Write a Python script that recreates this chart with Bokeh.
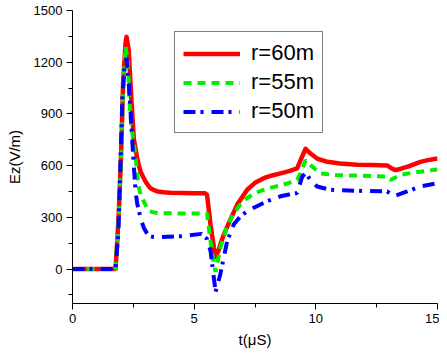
from bokeh.plotting import figure
from bokeh.models import Legend, LegendItem, Range1d, FixedTicker
from bokeh.embed import file_html
from bokeh.resources import INLINE

# r = 60 m
t_60 = [0, 1.77, 1.9, 2.0, 2.08, 2.18, 2.22, 2.31, 2.42, 2.52, 2.59, 2.66, 2.73, 2.8, 2.9, 3.0, 3.1, 3.2,
        3.35, 3.5, 3.75, 4.0, 5.0, 5.45,
        5.53, 5.67, 5.81, 5.88, 6.0, 6.14, 6.22, 6.49, 6.77, 7.18, 7.5, 7.86, 8.2, 8.55, 8.9, 9.23, 9.4, 9.58, 9.78,
        10.05, 10.47, 11.0, 11.7, 12.3, 12.93, 13.1, 13.27, 13.5, 13.75, 14.0, 14.3, 14.6, 15.0]
ez_60 = [0, 0, 317, 679, 1080, 1309, 1347, 1271, 985, 755, 700, 641, 600, 565, 535, 508, 487, 469,
         458, 450, 445, 442, 440, 440,
         430, 260, 126, 69, 107, 170, 200, 288, 374, 460, 500, 527, 543, 555, 568, 584, 641, 698, 670,
         641, 622, 612, 605, 603, 601, 585, 574, 582, 593, 606, 622, 632, 641]

# r = 55 m
t_55 = [0, 1.77, 1.9, 2.0, 2.08, 2.18, 2.28, 2.36, 2.48, 2.59, 2.66, 2.73, 2.83, 2.93, 3.04, 3.14, 3.3,
        3.5, 4.5, 5.5,
        5.53, 5.67, 5.81, 5.88, 6.08, 6.36, 6.63, 6.9, 7.18, 7.5, 7.86, 8.2, 8.55, 8.9, 9.23, 9.37, 9.58, 9.78,
        10.19, 10.8, 11.7, 12.93, 13.07, 13.25, 13.48, 13.9, 14.3, 15.0]
ez_55 = [0, 0, 300, 650, 1050, 1290, 1200, 918, 760, 660, 550, 469, 420, 393, 360, 336, 330,
         325, 322, 322,
         322, 164, 30, -17, 126, 250, 326, 375, 412, 440, 460, 474, 485, 500, 517, 555, 631, 603,
         555, 545, 542, 536, 517, 530, 546, 557, 565, 578]

# r = 50 m
t_50 = [0, 1.77, 1.88, 1.97, 2.05, 2.15, 2.22, 2.3, 2.38, 2.45, 2.52, 2.59, 2.66, 2.73, 2.83, 2.93, 3.04,
        3.14, 3.3, 3.5, 4.44,
        5.3, 5.53, 5.67, 5.88, 6.08, 6.36, 6.63, 6.9, 7.18, 7.6, 8.0, 8.55, 8.9, 9.23, 9.44, 9.58, 9.78, 10.05,
        10.6, 11.7, 12.93, 13.2, 13.5, 13.75, 14.3, 15.0]
ez_50 = [0, 0, 200, 600, 1000, 1200, 1223, 1100, 930, 755, 600, 450, 380, 336, 280, 240, 212,
         193, 187, 185, 190,
         204, 174, 107, -132, -27, 164, 260, 305, 336, 366, 393, 422, 432, 441, 536, 555, 517, 479,
         460, 454, 450, 422, 437, 450, 479, 498]

series_labels = ["r=60m", "r=55m", "r=50m"]
x_ticks = [0, 5, 10, 15]
y_ticks = [0, 300, 600, 900, 1200, 1500]

FONT = "Liberation Sans"

p = figure(width=439, height=350, output_backend="svg", toolbar_location=None,
           x_range=Range1d(0, 15), y_range=Range1d(-200, 1500),
           min_border_left=72, min_border_right=2, min_border_top=10, min_border_bottom=45)
p.outline_line_color = None
p.xgrid.visible = False
p.ygrid.visible = False

r1 = p.line(t_60, ez_60, line_color="#ff0000", line_width=4.5, line_join="round")
r2 = p.line(t_55, ez_55, line_color="#00ee00", line_width=4, line_dash="8 6")
r3 = p.line(t_50, ez_50, line_color="#0000ff", line_width=4, line_dash="12 5 3 8")

for ax in (p.xaxis[0], p.yaxis[0]):
    ax.axis_line_color = "black"
    ax.axis_line_width = 1
    ax.major_tick_out = 6
    ax.major_tick_in = 0
    ax.minor_tick_out = 4
    ax.minor_tick_in = 0
    ax.major_label_text_font = FONT
    ax.major_label_text_font_size = "13px"
    ax.major_label_text_color = "black"
    ax.axis_label_text_font = FONT
    ax.axis_label_text_font_size = "15px"
    ax.axis_label_text_font_style = "normal"
    ax.axis_label_text_color = "black"

p.xaxis[0].ticker = FixedTicker(ticks=x_ticks, minor_ticks=[2.5, 7.5, 12.5])
p.yaxis[0].ticker = FixedTicker(ticks=y_ticks, minor_ticks=[-150, 150, 450, 750, 1050, 1350])
p.xaxis[0].axis_label = "t(μS)"
p.yaxis[0].axis_label = "Ez(V/m)"
p.xaxis[0].major_label_standoff = 4
p.xaxis[0].axis_label_standoff = 5
p.yaxis[0].major_label_standoff = 4
p.yaxis[0].axis_label_standoff = 8

legend = Legend(items=[LegendItem(label=series_labels[0], renderers=[r1]),
                       LegendItem(label=series_labels[1], renderers=[r2]),
                       LegendItem(label=series_labels[2], renderers=[r3])],
                location=(102, 170))
legend.label_text_font = FONT
legend.label_text_font_size = "22px"
legend.label_text_color = "black"
legend.glyph_width = 57
legend.glyph_height = 25
legend.label_height = 25
legend.spacing = 3
legend.padding = 8
legend.margin = 0
legend.label_standoff = 11
legend.border_line_color = "black"
legend.border_line_width = 1
legend.background_fill_alpha = 1
p.add_layout(legend, "center")

open("out.html", "w").write(file_html(p, INLINE))
